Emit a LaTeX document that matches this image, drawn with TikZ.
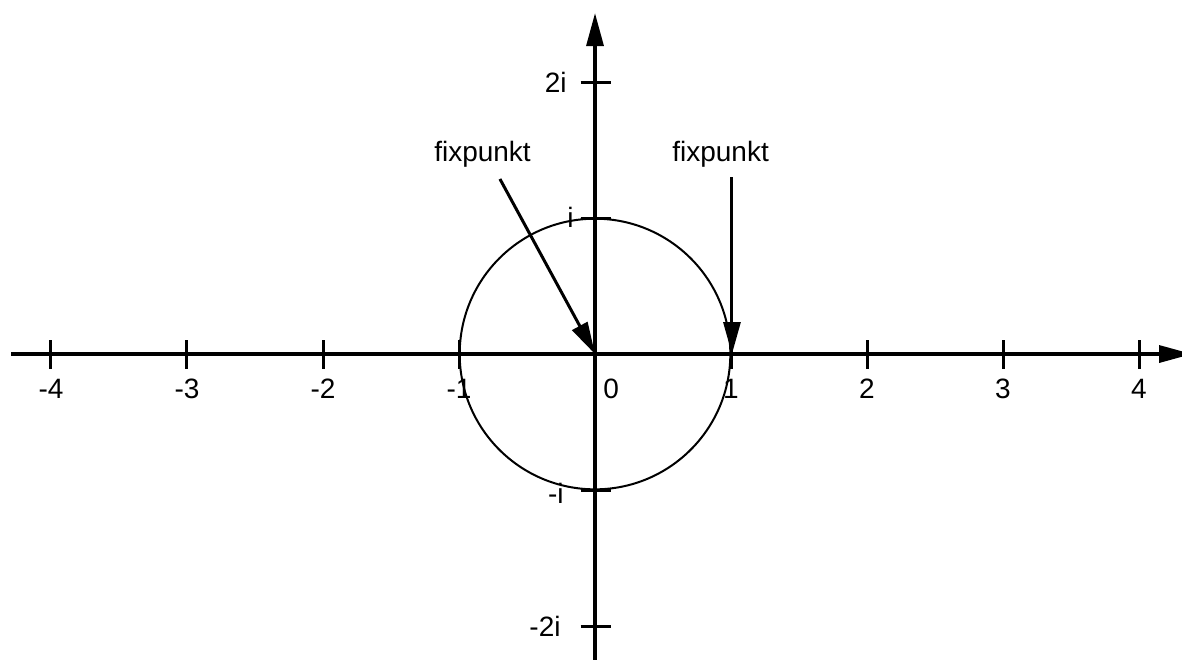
\documentclass[tikz,border=0pt]{standalone}
\usepackage{fontspec}
\setmainfont{Liberation Sans}
\usetikzlibrary{arrows.meta}
\tikzset{
  axisline/.style={line width=1.65pt, -{Triangle[length=16.5pt,width=8.5pt]}},
  ptrline/.style={line width=1.5pt, -{Triangle[length=16pt,width=8.5pt]}},
  tickline/.style={line width=1.5pt},
  lbl/.style={inner sep=0pt, font=\fontsize{14}{16}\selectfont},
  unitcircle/.style={line width=1pt}
}
\begin{document}
\begin{tikzpicture}[x=68pt,y=68pt]
\clip (-4.375,-2.243) rectangle (4.316,2.603);
% axes
\coordinate (xl) at (-4.294,0);
\coordinate (xr) at (4.39,0);
\coordinate (yb) at (0,-2.35);
\coordinate (yt) at (0,2.507);
\coordinate (O) at (0,0);
\coordinate (one) at (1.007,0);
% circle
\draw[unitcircle] (O) circle[radius=0.995];
\draw[axisline] (xl) -- (xr);
\draw[axisline] (yb) -- (yt);
% ticks on the real axis
\foreach \k in {-4,-3,-2,-1,1,2,3,4}{
  \draw[tickline] (\k,-0.11) -- (\k,0.1);
}
% ticks on the imaginary axis
\foreach \k in {-2,-1,1,2}{
  \draw[tickline] (-0.105,\k) -- (0.12,\k);
}
% real labels
\foreach \k in {-4,-3,-2,-1,1,2,3,4}{
  \node[lbl, anchor=base] (r\k) at (\k,-0.324) {\k};
}
\node[lbl, anchor=base] (r0) at (0.118,-0.324) {0};
% imaginary labels
\node[lbl, anchor=base east] (i2) at (-0.206,1.926) {2i};
\node[lbl, anchor=base east] (i1) at (-0.154,0.93) {i};
\node[lbl, anchor=base east] (im1) at (-0.228,-1.1) {-i};
\node[lbl, anchor=base east] (im2) at (-0.25,-2.08) {-2i};
% fixpunkt labels and arrows
\node[lbl, anchor=base] (fl) at (-0.827,1.412) {fixpunkt};
\node[lbl, anchor=base] (fr) at (0.923,1.412) {fixpunkt};
\coordinate (fls) at (-0.699,1.287);
\coordinate (frs) at (1.007,1.301);
\draw[ptrline] (fls) -- (O);
\draw[ptrline] (frs) -- (one);
\end{tikzpicture}
\end{document}
